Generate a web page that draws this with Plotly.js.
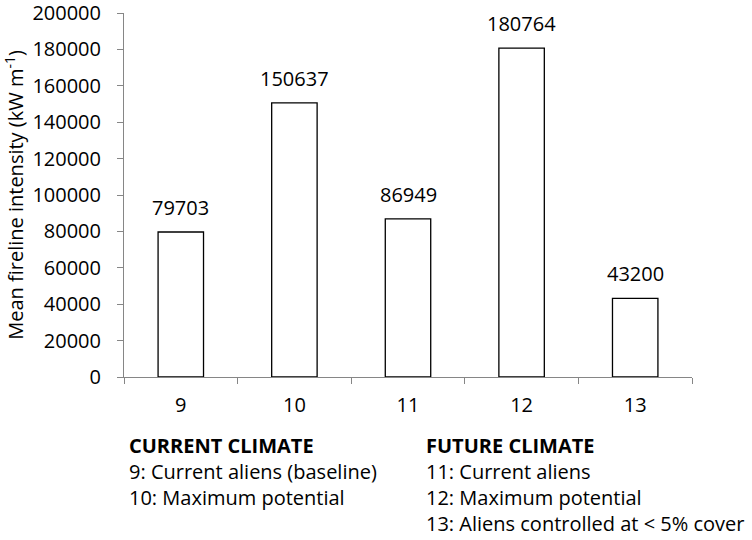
<!DOCTYPE html>
<html>
<head>
<meta charset="utf-8">
<script src="https://cdn.plot.ly/plotly-3.0.1.min.js"></script>
<style>
  html, body { margin: 0; padding: 0; background: #fff; }
  #plot { width: 752px; height: 540px; }
</style>
</head>
<body>
<div id="plot"></div>
<script>
// --- data ---
const scenarios = ['9', '10', '11', '12', '13'];
const intensity = [79703, 150637, 86949, 180764, 43200];

const currentLines = ['<b>CURRENT CLIMATE</b>', '9: Current aliens (baseline)', '10: Maximum potential'];
const futureLines = ['<b>FUTURE CLIMATE</b>', '11: Current aliens', '12: Maximum potential', '13: Aliens controlled at &lt; 5% cover'];

const FONT = '"Open Sans", sans-serif';
const axisGrey = '#868686';

// value labels above bars (x given as category index)
const labelNotes = scenarios.map((s, i) => ({
    x: i, y: intensity[i], xref: 'x', yref: 'y',
    text: String(intensity[i]), showarrow: false,
    yanchor: 'bottom', yshift: 9,
    font: { family: FONT, size: 20, color: '#000' }
}));

// legend blocks under the axis
const blockNote = (lines, x) => ({
    x: x, y: -0.14, yshift: -2, xref: 'paper', yref: 'paper',
    xanchor: 'left', yanchor: 'top', align: 'left',
    text: lines.join('<br>'), showarrow: false,
    font: { family: FONT, size: 20, color: '#000' }
});

const trace = {
    type: 'bar',
    x: scenarios,
    y: intensity,
    width: 0.4,
    marker: { color: '#fff', line: { color: '#000', width: 1.3 } },
    hoverinfo: 'x+y'
};

const layout = {
    width: 752, height: 540,
    margin: { l: 124, r: 60, t: 13, b: 163 },
    paper_bgcolor: '#fff', plot_bgcolor: '#fff',
    font: { family: FONT, size: 20, color: '#000' },
    showlegend: false,
    xaxis: {
        type: 'category',
        range: [-0.5, scenarios.length - 0.5],
        showline: true, linecolor: axisGrey, linewidth: 1,
        ticks: 'outside', tickson: 'boundaries', ticklen: 6, tickcolor: axisGrey,
        ticklabelstandoff: 10,
        showgrid: false, zeroline: false,
        tickfont: { family: FONT, size: 20 }
    },
    yaxis: {
        range: [0, 200050], dtick: 20000, tickformat: 'd',
        showline: true, linecolor: axisGrey, linewidth: 1,
        ticks: 'outside', ticklen: 6, tickcolor: axisGrey,
        ticklabelstandoff: 12, ticklabeloverflow: 'allow',
        showgrid: false, zeroline: false,
        tickfont: { family: FONT, size: 20 },
        title: { text: 'Mean fireline intensity (kW m<sup>-1</sup>)', font: { family: FONT, size: 20 }, standoff: 4 }
    },
    annotations: labelNotes.concat([
        blockNote(currentLines, 0.005),
        blockNote(futureLines, 0.528)
    ])
};

Plotly.newPlot('plot', [trace], layout, { displayModeBar: false, staticPlot: true });
</script>
</body>
</html>
